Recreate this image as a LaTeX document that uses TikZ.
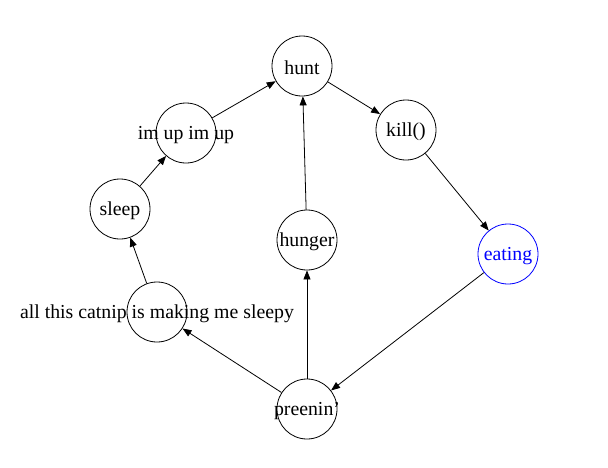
\documentclass[tikz,border=0pt]{standalone}
\usepackage{fontspec}
\setmainfont{Liberation Serif}
\usetikzlibrary{arrows.meta}
\begin{document}
\begin{tikzpicture}[x=1pt,y=-1pt,
  st/.style={circle,draw,line width=0.8pt,minimum size=60pt,inner sep=0pt},
  lb/.style={inner sep=0pt,font=\fontsize{19.8}{22}\selectfont},
  ar/.style={line width=0.8pt,-{Triangle[length=9pt,width=7pt]}}]
\useasboundingbox (0,0) rectangle (608,467);
\node[st] (hunt) at (302,66) {};
\node[st] (kill) at (406,130) {};
\node[st,draw=blue] (eat) at (508,254) {};
\node[st] (pre) at (307,409) {};
\node[st] (hun) at (307,240) {};
\node[st] (cat) at (157,312) {};
\node[st] (sl) at (120,209) {};
\node[st] (im) at (186,133) {};
\node[lb] (huntt) at ([yshift=-2pt]hunt) {hunt};
\node[lb] (killt) at ([yshift=-2pt]kill) {kill()};
\node[lb,text=blue] (eatt) at ([yshift=-2pt]eat) {eating};
\node[lb] (pret) at ([yshift=-2pt]pre) {preenin'};
\node[lb] (hunt2) at ([yshift=-2pt]hun) {hunger};
\node[lb] (catt) at ([yshift=-2pt]cat) {all this catnip is making me sleepy};
\node[lb] (slt) at ([yshift=-2pt]sl) {sleep};
\node[lb] (imt) at ([yshift=-2pt]im) {im up im up};
\draw[ar] (im) -- (hunt);
\draw[ar] (hunt) -- (kill);
\draw[ar] (kill) -- (eat);
\draw[ar] (eat) -- (pre);
\draw[ar] (pre) -- (hun);
\draw[ar] (hun) -- (hunt);
\draw[ar] (pre) -- (cat);
\draw[ar] (cat) -- (sl);
\draw[ar] (sl) -- (im);
\end{tikzpicture}
\end{document}
